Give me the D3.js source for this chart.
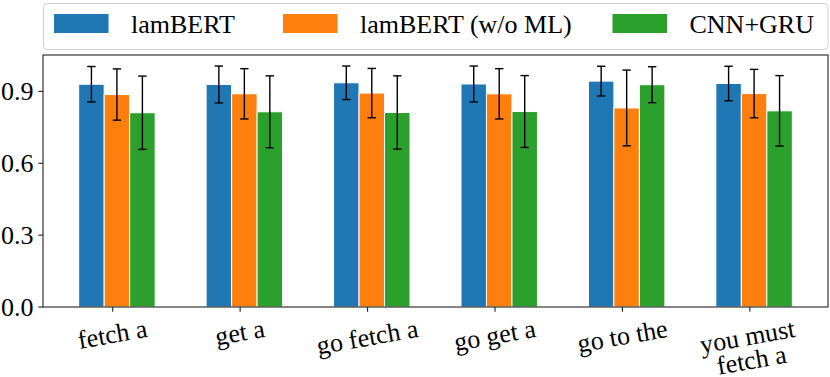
<!DOCTYPE html>
<html>
<head>
<meta charset="utf-8">
<script src="https://cdn.jsdelivr.net/npm/d3@7"></script>
<style>
  body { margin: 0; background: #fff; }
</style>
</head>
<body>
<div id="myplot"></div>
<script>
// data
var categories = ["fetch a", "get a", "go fetch a", "go get a", "go to the", "you must\nfetch a"];
var series = ["lamBERT", "lamBERT (w/o ML)", "CNN+GRU"];
var colors = ["#1f77b4", "#ff7f0e", "#2ca02c"];
var lambert = [0.930, 0.929, 0.936, 0.931, 0.943, 0.933];
var lambertErr = [0.074, 0.077, 0.070, 0.075, 0.062, 0.072];
var noml = [0.887, 0.890, 0.893, 0.890, 0.831, 0.891];
var nomlErr = [0.107, 0.105, 0.103, 0.105, 0.158, 0.101];
var cnn = [0.811, 0.815, 0.812, 0.816, 0.928, 0.819];
var cnnErr = [0.153, 0.150, 0.153, 0.150, 0.075, 0.147];
var yTicks = [0.0, 0.3, 0.6, 0.9];

var values = [lambert, noml, cnn];
var errors = [lambertErr, nomlErr, cnnErr];

var W = 830, H = 377;
var mLeft = 43, mRight = 828, mTop = 55, mBottom = 307;
var barW = 0.2;
var offsets = [-0.167, 0.033, 0.233];
var serif = '"Liberation Serif", "Times New Roman", Times, serif';

var svg = d3.select('div#myplot')
  .append('svg')
  .attr('width', W)
  .attr('height', H)
  .attr('font-family', serif);

// x domain like matplotlib: bar extent plus 5% margins
var lo = offsets[0] - barW / 2;
var hi = categories.length - 1 + offsets[2] + barW / 2;
var span = hi - lo;
var x = d3.scaleLinear()
  .domain([lo - 0.05 * span, hi + 0.05 * span])
  .range([mLeft, mRight]);

var y = d3.scaleLinear()
  .domain([0, 1.052])
  .range([mBottom, mTop]);

// bars
series.forEach(function (s, si) {
  var g = svg.append('g').attr('class', 'series' + si);
  g.selectAll('rect')
    .data(values[si])
    .enter()
    .append('rect')
    .attr('x', (d, i) => x(i + offsets[si] - barW / 2))
    .attr('width', x(barW) - x(0))
    .attr('y', d => y(d))
    .attr('height', d => y(0) - y(d))
    .attr('fill', colors[si])
    .attr('stroke', '#fff')
    .attr('stroke-width', 1);
});

// error bars
series.forEach(function (s, si) {
  var g = svg.append('g').attr('class', 'err' + si);
  var data = values[si].map((v, i) => ({ i: i, v: v, e: errors[si][i] }));
  var cx = d => x(d.i + offsets[si]);
  g.selectAll('line.v').data(data).enter().append('line')
    .attr('x1', cx).attr('x2', cx)
    .attr('y1', d => y(d.v - d.e)).attr('y2', d => y(d.v + d.e))
    .attr('stroke', '#000').attr('stroke-width', 1.4);
  [-1, 1].forEach(function (sgn) {
    g.selectAll('line.c' + sgn).data(data).enter().append('line')
      .attr('x1', d => cx(d) - 4.2).attr('x2', d => cx(d) + 4.2)
      .attr('y1', d => y(d.v + sgn * d.e)).attr('y2', d => y(d.v + sgn * d.e))
      .attr('stroke', '#000').attr('stroke-width', 1.4);
  });
});

// frame
svg.append('rect')
  .attr('x', mLeft).attr('y', mTop)
  .attr('width', mRight - mLeft).attr('height', mBottom - mTop)
  .attr('fill', 'none')
  .attr('stroke', '#222')
  .attr('stroke-width', 1.1);

// y axis ticks
var yAxis = svg.append('g').attr('id', 'yaxis');
yAxis.selectAll('line').data(yTicks).enter().append('line')
  .attr('x1', mLeft - 4.7).attr('x2', mLeft)
  .attr('y1', d => y(d)).attr('y2', d => y(d))
  .attr('stroke', '#222').attr('stroke-width', 1.1);
yAxis.selectAll('text').data(yTicks).enter().append('text')
  .attr('x', mLeft - 9.5)
  .attr('y', d => y(d))
  .attr('dy', '0.34em')
  .attr('text-anchor', 'end')
  .attr('font-size', 26)
  .attr('fill', '#000')
  .text(d => d3.format('.1f')(d));

// x axis ticks and rotated labels
var xAxis = svg.append('g').attr('id', 'xaxis');
xAxis.selectAll('line').data(categories).enter().append('line')
  .attr('x1', (d, i) => x(i)).attr('x2', (d, i) => x(i))
  .attr('y1', mBottom).attr('y2', mBottom + 4.7)
  .attr('stroke', '#222').attr('stroke-width', 1.1);

categories.forEach(function (c, i) {
  var g = xAxis.append('g');
  var t = g.append('text')
    .attr('text-anchor', 'middle')
    .attr('font-size', 26)
    .attr('fill', '#000')
    .attr('transform', 'rotate(-10)');
  c.split('\n').forEach(function (line, li) {
    t.append('tspan')
      .attr('x', 0)
      .attr('dy', li == 0 ? 0 : '0.92em')
      .text(line);
  });
  // place rotated box: centred on tick, top below tick
  var bb = g.node().getBoundingClientRect();
  var dx = x(i) - (bb.left + bb.width / 2);
  var dy = mBottom + 7 - bb.top;
  g.attr('transform', 'translate(' + dx + ',' + dy + ')');
});

// legend
var legend = svg.append('g').attr('id', 'legend');
legend.append('rect')
  .attr('x', 43.5).attr('y', 3.5)
  .attr('width', 784.5).attr('height', 46)
  .attr('rx', 4)
  .attr('fill', '#fff').attr('fill-opacity', 0.8)
  .attr('stroke', '#d0d0d0').attr('stroke-width', 1);
var legendX = [54, 283, 612.5];
legend.selectAll('rect.item').data(series).enter().append('rect')
  .attr('class', 'item')
  .attr('x', (d, i) => legendX[i]).attr('y', 14)
  .attr('width', 54.5).attr('height', 19)
  .attr('fill', (d, i) => colors[i]);
legend.selectAll('text').data(series).enter().append('text')
  .attr('x', (d, i) => legendX[i] + 77)
  .attr('y', 32.5)
  .attr('font-size', 26)
  .attr('fill', '#000')
  .text(d => d);
</script>
</body>
</html>
